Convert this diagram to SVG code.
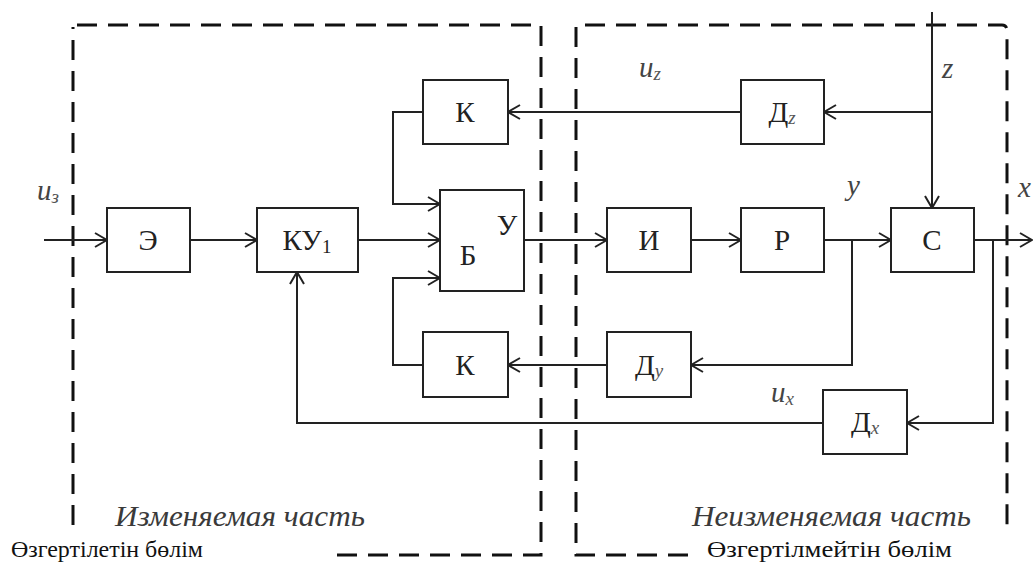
<svg xmlns="http://www.w3.org/2000/svg" width="1034" height="563" viewBox="0 0 1034 563" font-family="Liberation Serif, DejaVu Serif, serif">
<style>
.box{fill:#fff;stroke:#222;stroke-width:2}
.arr{fill:none;stroke:#222;stroke-width:2;marker-end:url(#ah)}
.dash{fill:none;stroke:#111;stroke-width:3;stroke-dasharray:20 11}
.bl{font-size:29px;fill:#222;text-anchor:middle}
.sub{font-size:19px;font-style:italic;fill:#555}
.lab{font-size:29px;font-style:italic;fill:#444}
.part{font-size:29px;font-style:italic;fill:#3a3a3a}
.kz{font-size:23px;fill:#111}
</style>
<defs>
<marker id="ah" markerWidth="14" markerHeight="16" refX="13" refY="8" orient="auto" markerUnits="userSpaceOnUse">
<path d="M1,1 L13,8 L1,15" fill="none" stroke="#222" stroke-width="2"/>
</marker>
</defs>
<rect width="1034" height="563" fill="#fff"/>
<g id="regions">
<path class="dash" d="M73,525 L73,27 M77,25 L541,25 L541,555 L328,555"/>
<path class="dash" d="M688,555 L576,555 L576,25 L1002,25 Q1007,25 1007,31 L1007,525"/>
<text class="part" x="115" y="526" textLength="250" lengthAdjust="spacingAndGlyphs">Изменяемая часть</text>
<text class="part" x="692" y="526" textLength="279" lengthAdjust="spacingAndGlyphs">Неизменяемая часть</text>
<rect x="0" y="528" width="326" height="35" fill="#fff"/>
<rect x="690" y="528" width="344" height="35" fill="#fff"/>
<text class="kz" x="11" y="557" textLength="192" lengthAdjust="spacingAndGlyphs">Өзгертілетін бөлім</text>
<text class="kz" x="707" y="557" textLength="245" lengthAdjust="spacingAndGlyphs">Өзгертілмейтін бөлім</text>
</g>
<g id="connectors">
<line class="arr" x1="44" y1="240" x2="107" y2="240"/>
<line class="arr" x1="190" y1="240" x2="257" y2="240"/>
<line class="arr" x1="358" y1="240" x2="440" y2="240"/>
<line class="arr" x1="524" y1="240" x2="607" y2="240"/>
<line class="arr" x1="691" y1="240" x2="741" y2="240"/>
<line class="arr" x1="824" y1="240" x2="891" y2="240"/>
<line class="arr" x1="974" y1="240" x2="1032" y2="240"/>
<line class="arr" x1="932" y1="12" x2="932" y2="208"/>
<line class="arr" x1="932" y1="112" x2="824" y2="112"/>
<line class="arr" x1="741" y1="112" x2="508" y2="112"/>
<polyline class="arr" points="423,112 393,112 393,204 440,204"/>
<polyline class="arr" points="852,240 852,365 691,365"/>
<line class="arr" x1="607" y1="365" x2="508" y2="365"/>
<polyline class="arr" points="423,365 393,365 393,278 440,278"/>
<polyline class="arr" points="993,240 993,423 907,423"/>
<polyline class="arr" points="823,423 297,423 297,272"/>
</g>
<g id="labels">
<text class="lab" x="37" y="200">u<tspan class="sub" dy="3">з</tspan></text>
<text class="lab" x="639" y="77">u<tspan class="sub" dy="3">z</tspan></text>
<text class="lab" x="942" y="78">z</text>
<text class="lab" x="847" y="195">y</text>
<text class="lab" x="1018" y="197">x</text>
<text class="lab" x="771" y="402">u<tspan class="sub" dy="3">x</tspan></text>
</g>
<g id="node-E"><rect class="box" x="107" y="208" width="83" height="64"/><text class="bl" x="148" y="250">Э</text></g>
<g id="node-KU1"><rect class="box" x="257" y="208" width="101" height="64"/><text class="bl" x="307" y="250">КУ<tspan font-size="19" dy="3">1</tspan></text></g>
<g id="node-K-top"><rect class="box" x="423" y="80" width="85" height="64"/><text class="bl" x="465" y="122">К</text></g>
<g id="node-BU"><rect class="box" x="440" y="190" width="84" height="101"/><text class="bl" x="468" y="265">Б</text><text class="bl" x="507" y="235">У</text></g>
<g id="node-K-bottom"><rect class="box" x="423" y="332" width="85" height="65"/><text class="bl" x="465" y="375">К</text></g>
<g id="node-Dz"><rect class="box" x="741" y="80" width="83" height="64"/><text class="bl" x="782" y="122">Д<tspan class="sub" dy="2">z</tspan></text></g>
<g id="node-I"><rect class="box" x="607" y="208" width="84" height="64"/><text class="bl" x="649" y="250">И</text></g>
<g id="node-R"><rect class="box" x="741" y="208" width="83" height="64"/><text class="bl" x="782" y="250">Р</text></g>
<g id="node-S"><rect class="box" x="891" y="208" width="83" height="64"/><text class="bl" x="932" y="250">С</text></g>
<g id="node-Dy"><rect class="box" x="607" y="332" width="84" height="65"/><text class="bl" x="649" y="375">Д<tspan class="sub" dy="2">y</tspan></text></g>
<g id="node-Dx"><rect class="box" x="823" y="390" width="84" height="64"/><text class="bl" x="865" y="432">Д<tspan class="sub" dy="2">x</tspan></text></g>
</svg>
